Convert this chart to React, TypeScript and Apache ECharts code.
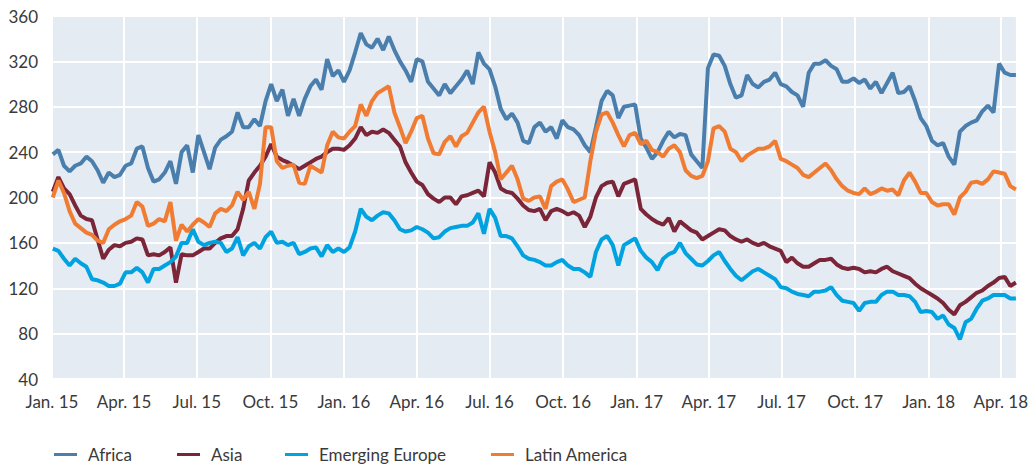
import React, { useEffect, useRef } from 'react';
import * as echarts from 'echarts';

// Weekly observations, first point 2 Jan 2015, one value per week
const quarterDates = [
  '2015-01-01', '2015-04-01', '2015-07-01', '2015-10-01',
  '2016-01-01', '2016-04-01', '2016-07-01', '2016-10-01',
  '2017-01-01', '2017-04-01', '2017-07-01', '2017-10-01',
  '2018-01-01', '2018-04-01',
];
const quarterLabels = [
  'Jan. 15', 'Apr. 15', 'Jul. 15', 'Oct. 15',
  'Jan. 16', 'Apr. 16', 'Jul. 16', 'Oct. 16',
  'Jan. 17', 'Apr. 17', 'Jul. 17', 'Oct. 17',
  'Jan. 18', 'Apr. 18',
];

const africa = [
  238, 242, 228, 223, 228, 230, 236, 232, 224, 213, 222, 218, 220,
  228, 230, 243, 245, 226, 214, 216, 222, 232, 212, 240, 246, 222,
  255, 240, 225, 244, 251, 254, 258, 275, 262, 262, 269, 263, 285,
  300, 285, 295, 272, 287, 272, 287, 298, 304, 295, 322, 307, 312,
  302, 312, 328, 345, 335, 332, 340, 330, 342, 330, 320, 312, 302,
  322, 320, 302, 296, 290, 300, 292, 298, 304, 312, 300, 328, 318,
  313, 298, 278, 269, 274, 266, 250, 248, 262, 266, 258, 262, 252,
  268, 262, 260, 255, 246, 240, 262, 285, 294, 290, 270, 280, 281,
  282, 252, 244, 234, 240, 250, 258, 253, 256, 255, 238, 232, 226,
  314, 326, 325, 316, 300, 288, 290, 308, 300, 297, 302, 304, 310,
  300, 298, 293, 290, 280, 310, 318, 318, 321, 316, 313, 302, 302,
  305, 301, 304, 296, 302, 292, 301, 310, 292, 293, 298, 285, 270,
  263, 250, 246, 248, 236, 229, 258, 263, 266, 268, 276, 281, 275,
  318, 310, 308, 308,
];

const asia = [
  205, 218, 208, 203, 193, 184, 181, 180, 163, 146, 154, 158, 157,
  160, 161, 164, 163, 149, 150, 149, 152, 156, 125, 150, 149, 149,
  152, 155, 155, 160, 164, 166, 166, 172, 190, 215, 222, 228, 236,
  247, 236, 233, 231, 228, 225, 228, 231, 234, 236, 240, 243, 243,
  242, 246, 252, 262, 255, 258, 257, 260, 257, 251, 245, 231, 222,
  214, 211, 203, 199, 196, 200, 200, 194, 201, 202, 204, 206, 201,
  231, 222, 208, 205, 204, 199, 193, 189, 188, 190, 180, 188, 190,
  188, 185, 187, 184, 174, 183, 200, 210, 213, 214, 201, 212, 214,
  216, 190, 185, 181, 178, 176, 182, 170, 179, 175, 171, 169, 163,
  166, 169, 172, 171, 166, 163, 161, 163, 160, 158, 160, 157, 155,
  153, 143, 147, 142, 139, 139, 142, 145, 145, 146, 141, 138, 137,
  138, 137, 134, 135, 134, 137, 139, 135, 133, 131, 129, 124, 120,
  117, 114, 111, 107, 101, 97, 105, 108, 112, 116, 118, 122, 125,
  129, 130, 122, 125,
];

const emergingEurope = [
  155, 153, 146, 140, 146, 142, 139, 128, 127, 125, 122, 122, 124,
  134, 134, 138, 134, 125, 137, 137, 140, 143, 148, 160, 160, 172,
  161, 158, 160, 161, 160, 152, 155, 165, 149, 157, 160, 155, 165,
  170, 160, 161, 158, 160, 150, 152, 155, 156, 148, 158, 152, 155,
  152, 156, 170, 190, 183, 180, 184, 187, 186, 180, 172, 170, 171,
  174, 172, 169, 164, 165, 170, 173, 174, 175, 175, 178, 186, 168,
  190, 182, 166, 166, 164, 157, 149, 146, 145, 143, 140, 140, 143,
  145, 140, 137, 137, 134, 130, 152, 163, 166, 158, 140, 158, 161,
  164, 153, 147, 143, 136, 146, 150, 152, 160, 151, 146, 141, 140,
  144, 149, 152, 144, 137, 131, 127, 131, 135, 137, 134, 131, 128,
  121, 120, 117, 115, 114, 113, 117, 117, 118, 121, 114, 109, 108,
  107, 100, 107, 108, 108, 114, 117, 117, 114, 114, 113, 108, 99,
  100, 99, 93, 96, 88, 85, 75, 90, 93, 102, 109, 111, 114,
  114, 114, 111, 111,
];

const latinAmerica = [
  200, 215, 204, 188, 177, 173, 169, 167, 162, 160, 172, 176, 179,
  181, 184, 196, 192, 175, 177, 181, 179, 196, 162, 176, 170, 176,
  181, 178, 174, 186, 190, 188, 193, 205, 198, 205, 190, 212, 262,
  262, 232, 226, 228, 229, 213, 212, 228, 225, 222, 246, 258, 253,
  252, 258, 263, 282, 272, 285, 292, 295, 298, 275, 262, 248, 258,
  270, 272, 252, 239, 238, 249, 254, 245, 254, 257, 266, 275, 280,
  258, 240, 216, 222, 228, 216, 199, 197, 200, 201, 190, 210, 214,
  216, 207, 196, 198, 200, 232, 258, 273, 275, 266, 255, 245, 255,
  257, 247, 250, 242, 240, 236, 243, 246, 240, 224, 219, 217, 219,
  232, 261, 263, 258, 243, 240, 232, 237, 240, 243, 243, 245, 250,
  234, 232, 229, 226, 220, 218, 222, 226, 230, 224, 216, 210, 206,
  204, 203, 208, 203, 205, 208, 206, 207, 202, 215, 222, 214, 204,
  204, 196, 193, 194, 194, 185, 200, 205, 213, 214, 212, 216, 223,
  222, 221, 210, 207,
];

const seriesNames = ['Africa', 'Asia', 'Emerging Europe', 'Latin America'];
const seriesColors = ['#4a7eac', '#7b2538', '#00a3e0', '#f07c33'];

export default function App() {
  const ref = useRef<HTMLDivElement>(null);

  useEffect(() => {
    const chart = echarts.init(ref.current!, null, { renderer: 'svg' });
    const DAY = 86400000;
    const t0 = Date.UTC(2015, 0, 2);
    const dates = africa.map((_, i) => t0 + i * 7 * DAY);
    const mk = (arr: number[]) => arr.map((v, i) => [dates[i], v]);
    const qTs = quarterDates.map((d) => Date.parse(d + 'T00:00:00Z'));
    const font = 'Lato, "Open Sans", sans-serif';
    const textColor = '#3a3a3a';
    const allData = [africa, asia, emergingEurope, latinAmerica];
    const legendLefts = [54, 177, 285, 491];

    chart.setOption({
      animation: false,
      backgroundColor: '#ffffff',
      grid: {
        left: 52,
        right: 12,
        top: 16,
        bottom: 86,
        show: true,
        backgroundColor: '#e4ebf3',
        borderWidth: 0,
      },
      xAxis: {
        type: 'value',
        min: Date.UTC(2015, 0, 1),
        max: Date.UTC(2018, 3, 20),
        axisLine: { show: false },
        axisTick: { show: false, customValues: qTs },
        axisLabel: {
          customValues: qTs,
          formatter: (v: number) => {
            const idx = qTs.findIndex((q) => Math.abs(q - v) < DAY);
            return idx >= 0 ? quarterLabels[idx] : '';
          },
          fontSize: 17,
          color: textColor,
          fontFamily: font,
          margin: 14,
        },
        splitLine: { show: true, lineStyle: { color: '#ffffff', width: 2 } },
      },
      yAxis: {
        type: 'value',
        min: 40,
        max: 360,
        interval: 40,
        axisLine: { show: false },
        axisTick: { show: false },
        axisLabel: { fontSize: 17, color: textColor, fontFamily: font, margin: 14 },
        splitLine: { show: true, lineStyle: { color: '#ffffff', width: 2 } },
      },
      legend: seriesNames.map((n, i) => ({
        data: [n],
        left: legendLefts[i],
        top: 446,
        padding: 0,
        icon: 'rect',
        itemWidth: 23,
        itemHeight: 3,
        textStyle: { fontSize: 17, color: textColor, fontFamily: font, padding: [0, 0, 0, 6] },
      })),
      series: seriesNames.map((n, i) => ({
        name: n,
        type: 'line',
        data: mk(allData[i]),
        showSymbol: false,
        symbol: 'none',
        color: seriesColors[i],
        lineStyle: { width: 4, color: seriesColors[i] },
      })),
    });

    return () => chart.dispose();
  }, []);

  return (
    <div
      ref={ref}
      style={{ position: 'absolute', left: 0, top: 0, width: 1031, height: 465 }}
    />
  );
}
